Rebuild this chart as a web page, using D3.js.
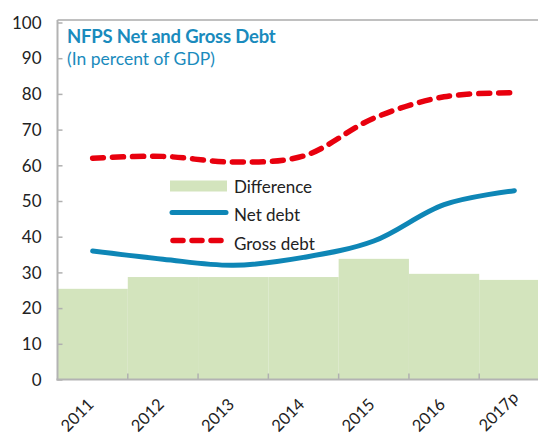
<!DOCTYPE html>
<html><head><meta charset="utf-8">
<script src="https://cdn.jsdelivr.net/npm/d3@7"></script>
<style>
html,body{margin:0;padding:0;background:#fff;overflow:hidden}
svg{display:block;font-family:Lato,"Open Sans",sans-serif}
</style></head><body>
<svg id="c" width="538" height="435"></svg>
<script>
const years = ["2011","2012","2013","2014","2015","2016","2017p"];
const difference = [25.4, 28.7, 28.7, 28.7, 33.8, 29.6, 27.9];
const netDebt = [36.0, 33.7, 32.0, 34.2, 38.8, 49.0, 52.9];
const grossDebt = [62.0, 62.5, 60.9, 62.6, 73.2, 79.2, 80.3];
const yTicks = [0,10,20,30,40,50,60,70,80,90,100];

const svg = d3.select("#c");
const L = 57.5, R = 549.5, T = 22.5, B = 379.5;
const x = d3.scaleBand().domain(years).range([L, R]).padding(0);
const y = d3.scaleLinear().domain([0,100]).range([B, T]);

// bars
svg.append("g").selectAll("rect").data(years).join("rect")
  .attr("x", d => x(d)).attr("width", x.bandwidth())
  .attr("y", (d,i) => y(difference[i])).attr("height", (d,i) => B - y(difference[i]))
  .attr("fill", "#d3e4bd");

// frame top
svg.append("line").attr("x1", L).attr("x2", 538).attr("y1", 20).attr("y2", 20)
  .attr("stroke", "#c0c0c0").attr("stroke-width", 2);

// y axis
const ya = svg.append("g").attr("transform", `translate(${L},0)`)
  .call(d3.axisRight(y).tickValues(yTicks).tickSize(5).tickFormat(d3.format("d")));
ya.select(".domain").remove();
ya.selectAll(".tick line").attr("stroke", "#b0b0b0").attr("stroke-width", 1.5);
ya.selectAll(".tick text").attr("x", -16).attr("text-anchor", "end")
  .attr("font-size", 17).attr("fill", "#222").attr("dy", "0.34em")
  .style("font-family", "Lato, sans-serif");
svg.append("line").attr("x1", L).attr("x2", L).attr("y1", 20).attr("y2", B+1)
  .attr("stroke", "#b3b3b3").attr("stroke-width", 2);

// x axis
const xa = svg.append("g").attr("transform", `translate(0,${B})`)
  .call(d3.axisBottom(x).tickSize(0).tickPadding(0));
xa.select(".domain").remove();
xa.selectAll(".tick text")
  .attr("transform", (d,i) => `translate(${i === 6 ? 1 : -2},${i === 6 ? 15 : 22}) rotate(-45)`)
  .attr("text-anchor", "end").attr("dy", "0.35em").attr("y", 0)
  .attr("font-size", 16.5).attr("fill", "#222")
  .style("font-family", "Lato, sans-serif");
svg.append("g").selectAll("line").data(years.slice(1)).join("line")
  .attr("x1", d => x(d)).attr("x2", d => x(d)).attr("y1", B).attr("y2", B-6)
  .attr("stroke", "#b0b0b0").attr("stroke-width", 1.5);
svg.append("line").attr("x1", L-1).attr("x2", 538).attr("y1", B).attr("y2", B)
  .attr("stroke", "#b3b3b3").attr("stroke-width", 2);

// lines
const cx = d => x(d) + x.bandwidth()/2;
const line = d3.line().curve(d3.curveCatmullRom.alpha(0.5));
svg.append("path").attr("d", line(years.map((d,i) => [cx(d), y(grossDebt[i])])))
  .attr("fill", "none").attr("stroke", "#e8000e").attr("stroke-width", 5.5)
  .attr("stroke-dasharray", "11,9").attr("stroke-linecap", "round");
svg.append("path").attr("d", line(years.map((d,i) => [cx(d), y(netDebt[i])])))
  .attr("fill", "none").attr("stroke", "#0e86b6").attr("stroke-width", 5)
  .attr("stroke-linecap", "round");

// title
svg.append("text").attr("x", 67).attr("y", 43).attr("font-size", 18.5).attr("font-weight", "bold")
  .attr("fill", "#1a8bbd").style("letter-spacing", "-0.2px").text("NFPS Net and Gross Debt");
svg.append("text").attr("x", 67).attr("y", 65).attr("font-size", 17.5)
  .attr("fill", "#1a8bbd").text("(In percent of GDP)");

// legend
const lg = svg.append("g");
lg.append("rect").attr("x", 170).attr("y", 180.5).attr("width", 57).attr("height", 11).attr("fill", "#d3e4bd");
lg.append("line").attr("x1", 172).attr("x2", 226).attr("y1", 212.5).attr("y2", 212.5)
  .attr("stroke", "#0e86b6").attr("stroke-width", 5).attr("stroke-linecap", "round");
lg.append("line").attr("x1", 173).attr("x2", 226).attr("y1", 240.5).attr("y2", 240.5)
  .attr("stroke", "#e8000e").attr("stroke-width", 5.5).attr("stroke-dasharray", "10,9").attr("stroke-linecap", "round");
const lt = ["Difference","Net debt","Gross debt"];
lg.selectAll("text").data(lt).join("text")
  .attr("x", 234).attr("y", (d,i) => 192.5 + i*28.5).attr("font-size", 17).attr("fill", "#222").text(d => d);
</script>
</body></html>
